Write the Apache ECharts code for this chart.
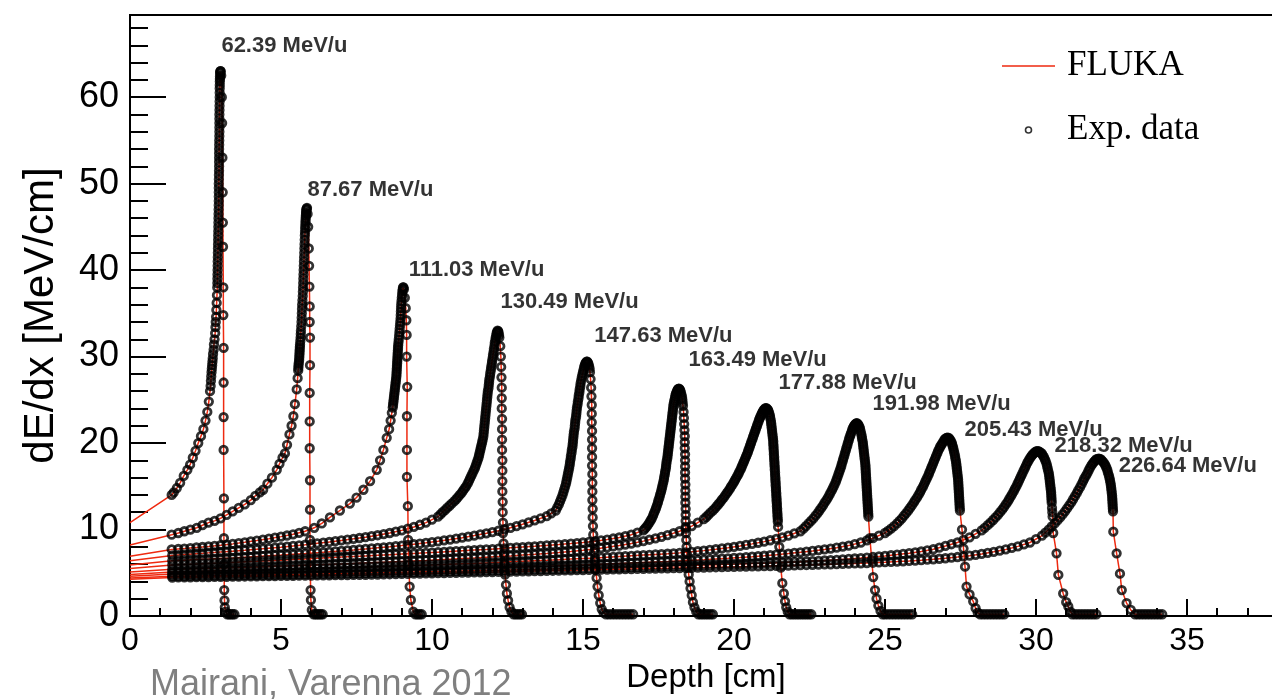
<!DOCTYPE html>
<html><head><meta charset="utf-8">
<script src="https://cdn.jsdelivr.net/npm/echarts@6/dist/echarts.min.js"></script>
<style>html,body{margin:0;padding:0;background:#fff}#c{width:1272px;height:699px}</style>
</head><body><div id="c"></div>
<script>
// ---------- data ----------
const energyLabels = ['62.39 MeV/u','87.67 MeV/u','111.03 MeV/u','130.49 MeV/u','147.63 MeV/u','163.49 MeV/u','177.88 MeV/u','191.98 MeV/u','205.43 MeV/u','218.32 MeV/u','226.64 MeV/u'];
// label anchor (depth, dE/dx) — left edge of each label
const labelAnchors = [[3.01,65.9],[5.86,49.3],[9.21,40.0],[12.25,36.3],[15.36,32.4],[18.48,29.6],[21.46,26.9],[24.57,24.5],[27.62,21.5],[30.6,19.7],[32.72,17.4]];
// FLUKA value at depth 0 for each energy
const flukaEntry = [10.8, 8.2, 6.9, 6.4, 5.9, 5.5, 5.1, 4.8, 4.6, 4.4, 4.25];
const xTicks = [0,5,10,15,20,25,30,35];
const yTicks = [0,10,20,30,40,50,60];

// measured curves (FLUKA line follows these, and they are also experimental points)
const c062 = [[1.38,14.0],[1.45,14.3],[1.55,14.8],[1.66,15.4],[1.78,16.2],[1.9,16.9],[1.99,17.5],[2.08,18.3],[2.17,19.1],[2.26,20.0],[2.35,20.8],[2.43,21.6],[2.5,22.6],[2.56,23.6],[2.61,24.8],[2.65,26.0],[2.67,26.6],[2.68,27.2],[2.69,27.7],[2.7,28.2],[2.71,28.6],[2.72,29.0],[2.73,29.4],[2.74,29.8],[2.75,30.3],[2.77,30.8],[2.78,31.4],[2.8,32.0],[2.82,32.7],[2.83,33.4],[2.84,34.0],[2.85,34.6],[2.86,35.4],[2.87,36.2],[2.88,37.1],[2.89,38.0],[2.895,39.0],[2.9,40.0],[2.905,41.0],[2.91,42.0],[2.915,43.0],[2.92,44.0],[2.925,45.0],[2.93,46.0],[2.935,47.0],[2.94,48.0],[2.94,49.0],[2.94,50.0],[2.945,51.0],[2.95,52.0],[2.95,53.0],[2.95,54.0],[2.955,55.0],[2.96,56.0],[2.96,57.0],[2.96,58.0],[2.965,59.0],[2.97,60.0],[2.97,61.0],[2.975,61.8],[2.98,62.4],[2.99,62.9],[3.0,63.0],[3.02,62.5],[3.04,60.0],[3.05,57.0],[3.06,53.0],[3.07,49.0],[3.075,45.5],[3.08,42.7],[3.09,38.0],[3.09,34.8],[3.1,31.0],[3.1,27.0],[3.1,23.0],[3.1,19.2],[3.11,13.6],[3.11,9.0],[3.12,6.0],[3.12,3.0],[3.13,1.8],[3.14,1.0],[3.17,0.5],[3.22,0.2],[3.28,0.2],[3.34,0.2],[3.4,0.2],[3.46,0.2]];
const c088 = [[1.38,9.4],[1.6,9.6],[1.8,9.8],[2.0,10.0],[2.21,10.2],[2.4,10.5],[2.6,10.8],[2.8,11.0],[3.0,11.3],[3.2,11.7],[3.4,12.1],[3.6,12.5],[3.8,12.9],[4.0,13.4],[4.15,13.9],[4.3,14.3],[4.41,14.6],[4.55,15.3],[4.7,16.0],[4.86,16.9],[4.95,17.6],[5.05,18.3],[5.13,18.8],[5.2,19.8],[5.28,21.0],[5.35,22.0],[5.41,23.1],[5.46,24.5],[5.52,26.2],[5.55,27.5],[5.57,28.4],[5.58,29.0],[5.6,29.6],[5.61,30.2],[5.62,30.8],[5.63,31.4],[5.65,32.2],[5.66,33.0],[5.68,34.0],[5.69,35.0],[5.7,36.0],[5.72,37.0],[5.73,38.0],[5.74,39.0],[5.75,40.0],[5.76,41.0],[5.77,42.0],[5.78,43.0],[5.79,44.0],[5.8,44.8],[5.81,45.5],[5.82,46.1],[5.83,46.6],[5.84,47.0],[5.86,47.2],[5.88,46.5],[5.9,45.0],[5.92,42.5],[5.93,40.5],[5.94,38.1],[5.95,35.8],[5.95,34.0],[5.96,32.2],[5.96,29.0],[5.95,25.8],[5.95,22.5],[5.95,19.4],[5.96,15.7],[5.96,12.3],[5.96,8.8],[5.97,5.8],[5.98,3.0],[5.99,1.85],[6.02,0.7],[6.08,0.2],[6.14,0.2],[6.2,0.2],[6.26,0.2],[6.32,0.2],[6.38,0.2]];
const c111 = [[1.38,7.7],[1.8,7.8],[2.2,7.92],[2.6,8.04],[3.0,8.18],[3.4,8.34],[3.8,8.52],[4.2,8.72],[4.6,8.94],[5.0,9.18],[5.4,9.45],[5.8,9.8],[6.1,10.2],[6.35,10.7],[6.62,11.4],[6.95,12.2],[7.28,13.0],[7.5,13.7],[7.73,14.6],[7.95,15.6],[8.17,16.9],[8.28,18.0],[8.39,19.2],[8.5,20.6],[8.58,21.6],[8.63,22.6],[8.67,23.5],[8.7,24.1],[8.72,24.7],[8.74,25.3],[8.76,25.9],[8.78,26.5],[8.8,27.1],[8.82,27.7],[8.83,28.3],[8.84,28.9],[8.85,29.5],[8.86,30.1],[8.87,30.7],[8.88,31.3],[8.9,32.0],[8.92,32.8],[8.94,33.6],[8.96,34.4],[8.97,35.2],[8.98,36.0],[9.0,36.8],[9.02,37.5],[9.04,38.0],[9.07,37.8],[9.1,36.8],[9.13,35.6],[9.15,34.2],[9.16,32.5],[9.16,30.0],[9.18,26.5],[9.17,23.1],[9.17,19.2],[9.17,16.1],[9.2,12.7],[9.21,8.8],[9.23,6.0],[9.26,3.4],[9.3,1.85],[9.38,0.5],[9.45,0.2],[9.52,0.2],[9.59,0.2],[9.66,0.2]];
const c130 = [[1.4,7.0],[1.8,7.1],[2.2,7.2],[2.6,7.3],[3.0,7.4],[3.4,7.5],[3.8,7.6],[4.2,7.72],[4.6,7.84],[5.0,7.96],[5.4,8.1],[5.8,8.24],[6.2,8.4],[6.6,8.56],[7.0,8.74],[7.4,8.92],[7.8,9.12],[8.2,9.34],[8.6,9.6],[9.0,9.9],[9.4,10.3],[9.8,10.8],[10.2,11.5],[10.35,12.0],[10.5,12.5],[10.65,13.0],[10.8,13.5],[10.92,14.0],[11.03,14.5],[11.13,15.0],[11.22,15.6],[11.3,16.2],[11.38,16.8],[11.45,17.4],[11.51,18.0],[11.56,18.6],[11.6,19.2],[11.64,19.8],[11.68,20.4],[11.71,21.1],[11.73,21.8],[11.75,22.5],[11.77,23.2],[11.79,23.9],[11.81,24.6],[11.83,25.3],[11.85,26.0],[11.88,26.7],[11.9,27.4],[11.93,28.1],[11.96,28.8],[11.99,29.5],[12.02,30.2],[12.05,30.9],[12.08,31.6],[12.11,32.2],[12.14,32.7],[12.17,33.0],[12.2,32.8],[12.23,32.2],[12.26,31.2],[12.28,30.0],[12.29,28.8],[12.3,27.6],[12.31,26.4],[12.31,25.2],[12.31,24.0],[12.32,22.8],[12.32,21.6],[12.32,20.4],[12.32,19.2],[12.33,18.0],[12.33,16.8],[12.33,15.6],[12.33,14.4],[12.34,13.2],[12.34,12.0],[12.35,10.8],[12.35,9.6],[12.37,8.4],[12.38,7.2],[12.4,6.0],[12.42,4.8],[12.45,3.6],[12.48,2.6],[12.52,1.8],[12.57,1.0],[12.63,0.5],[12.7,0.2],[12.77,0.2],[12.84,0.2],[12.91,0.2],[12.98,0.2]];
const c148 = [[1.4,6.4],[1.8,6.46],[2.2,6.52],[2.6,6.58],[3.0,6.65],[3.4,6.72],[3.8,6.8],[4.2,6.88],[4.6,6.96],[5.0,7.04],[5.4,7.13],[5.8,7.22],[6.2,7.32],[6.6,7.42],[7.0,7.53],[7.4,7.64],[7.8,7.76],[8.2,7.88],[8.6,8.0],[9.0,8.14],[9.4,8.3],[9.8,8.46],[10.2,8.64],[10.6,8.84],[11.0,9.06],[11.4,9.3],[11.8,9.56],[12.2,9.86],[12.6,10.2],[13.0,10.6],[13.4,11.05],[13.8,11.55],[14.1,12.2],[14.2,12.9],[14.28,13.6],[14.35,14.3],[14.41,15.0],[14.46,15.7],[14.5,16.4],[14.54,17.1],[14.57,17.8],[14.6,18.5],[14.63,19.2],[14.66,19.9],[14.68,20.6],[14.7,21.3],[14.73,22.0],[14.75,22.7],[14.78,23.4],[14.8,24.1],[14.83,24.8],[14.86,25.5],[14.89,26.2],[14.92,26.9],[14.96,27.6],[15.0,28.2],[15.04,28.8],[15.08,29.2],[15.12,29.4],[15.16,29.3],[15.2,28.9],[15.23,28.2],[15.25,27.4],[15.27,26.4],[15.28,25.4],[15.29,24.4],[15.29,23.4],[15.29,22.4],[15.3,21.4],[15.3,20.4],[15.3,19.4],[15.3,18.4],[15.3,17.4],[15.31,16.4],[15.31,15.4],[15.31,14.4],[15.31,13.4],[15.32,12.4],[15.32,11.4],[15.33,10.4],[15.34,9.4],[15.35,8.4],[15.37,7.4],[15.39,6.4],[15.42,5.4],[15.45,4.4],[15.48,3.4],[15.52,2.4],[15.57,1.5],[15.62,0.8],[15.68,0.4],[15.76,0.2],[15.86,0.2],[15.96,0.2],[16.06,0.2],[16.16,0.2],[16.26,0.2],[16.36,0.2],[16.46,0.2],[16.56,0.2],[16.66,0.2]];
const c163 = [[1.4,5.9],[1.8,5.96],[2.2,6.02],[2.6,6.08],[3.0,6.14],[3.4,6.2],[3.8,6.26],[4.2,6.32],[4.6,6.39],[5.0,6.46],[5.4,6.53],[5.8,6.6],[6.2,6.67],[6.6,6.74],[7.0,6.81],[7.4,6.88],[7.8,6.95],[8.2,7.02],[8.6,7.09],[9.0,7.16],[9.4,7.23],[9.8,7.3],[10.2,7.38],[10.6,7.46],[11.0,7.54],[11.4,7.62],[11.8,7.7],[12.2,7.79],[12.6,7.88],[13.0,7.97],[13.4,8.06],[13.8,8.16],[14.2,8.26],[14.6,8.37],[15.0,8.5],[15.4,8.65],[15.8,8.84],[16.2,9.08],[16.6,9.4],[17.0,9.9],[17.1,10.3],[17.2,10.8],[17.28,11.3],[17.35,11.9],[17.42,12.5],[17.48,13.1],[17.53,13.7],[17.58,14.3],[17.62,14.9],[17.66,15.5],[17.69,16.1],[17.72,16.7],[17.75,17.3],[17.77,17.9],[17.8,18.5],[17.82,19.1],[17.84,19.7],[17.86,20.3],[17.88,20.9],[17.9,21.5],[17.92,22.1],[17.94,22.7],[17.96,23.3],[17.98,23.9],[18.0,24.5],[18.03,25.0],[18.06,25.5],[18.1,25.9],[18.14,26.2],[18.18,26.3],[18.22,26.1],[18.26,25.6],[18.29,25.0],[18.31,24.3],[18.33,23.6],[18.34,22.9],[18.35,22.2],[18.36,21.5],[18.37,20.8],[18.37,20.1],[18.37,19.4],[18.38,18.7],[18.38,18.0],[18.38,17.3],[18.38,16.6],[18.38,15.9],[18.39,15.2],[18.39,14.5],[18.39,13.8],[18.39,13.1],[18.4,12.4],[18.4,11.7],[18.4,11.0],[18.4,10.3],[18.41,9.6],[18.42,8.8],[18.43,8.0],[18.44,7.2],[18.46,6.4],[18.48,5.6],[18.5,4.8],[18.53,4.0],[18.56,3.2],[18.6,2.4],[18.64,1.6],[18.69,1.0],[18.75,0.5],[18.82,0.2],[18.9,0.2],[18.98,0.2],[19.06,0.2],[19.14,0.2],[19.22,0.2],[19.3,0.2]];
const c178 = [[1.4,5.4],[1.8,5.44],[2.2,5.48],[2.6,5.52],[3.0,5.56],[3.4,5.6],[3.8,5.64],[4.2,5.68],[4.6,5.72],[5.0,5.77],[5.4,5.82],[5.8,5.87],[6.2,5.92],[6.6,5.97],[7.0,6.02],[7.4,6.07],[7.8,6.13],[8.2,6.19],[8.6,6.25],[9.0,6.31],[9.4,6.37],[9.8,6.43],[10.2,6.5],[10.6,6.57],[11.0,6.64],[11.4,6.71],[11.8,6.79],[12.2,6.87],[12.6,6.95],[13.0,7.04],[13.4,7.13],[13.8,7.23],[14.2,7.34],[14.6,7.46],[15.0,7.6],[15.4,7.76],[15.8,7.94],[16.2,8.14],[16.6,8.38],[17.0,8.66],[17.4,8.98],[17.8,9.35],[18.2,9.8],[18.6,10.4],[19.0,11.2],[19.15,11.7],[19.3,12.2],[19.43,12.7],[19.55,13.2],[19.66,13.7],[19.76,14.2],[19.86,14.7],[19.95,15.2],[20.03,15.7],[20.11,16.2],[20.18,16.7],[20.25,17.2],[20.31,17.7],[20.37,18.2],[20.43,18.7],[20.48,19.2],[20.53,19.7],[20.58,20.2],[20.63,20.7],[20.68,21.2],[20.73,21.7],[20.78,22.2],[20.83,22.7],[20.88,23.1],[20.93,23.5],[20.98,23.8],[21.03,24.0],[21.08,24.0],[21.13,23.8],[21.17,23.4],[21.2,22.9],[21.23,22.3],[21.25,21.7],[21.27,21.1],[21.29,20.5],[21.3,19.9],[21.31,19.3],[21.32,18.7],[21.33,18.1],[21.34,17.5],[21.35,16.9],[21.36,16.3],[21.37,15.7],[21.38,15.1],[21.39,14.5],[21.4,13.9],[21.41,13.3],[21.42,12.7],[21.43,12.1],[21.44,11.5],[21.45,10.9],[21.46,10.3],[21.5,8.0],[21.55,5.6],[21.6,3.8],[21.65,2.6],[21.69,1.7],[21.73,1.0],[21.78,0.5],[21.84,0.2],[21.92,0.2],[22.0,0.2],[22.08,0.2],[22.16,0.2],[22.24,0.2],[22.32,0.2],[22.4,0.2],[22.48,0.2],[22.56,0.2]];
const c192 = [[1.4,5.1],[1.8,5.13],[2.2,5.16],[2.6,5.19],[3.0,5.22],[3.4,5.25],[3.8,5.28],[4.2,5.31],[4.6,5.34],[5.0,5.38],[5.4,5.42],[5.8,5.46],[6.2,5.5],[6.6,5.54],[7.0,5.58],[7.4,5.62],[7.8,5.66],[8.2,5.7],[8.6,5.74],[9.0,5.78],[9.4,5.83],[9.8,5.88],[10.2,5.93],[10.6,5.98],[11.0,6.03],[11.4,6.08],[11.8,6.14],[12.2,6.2],[12.6,6.26],[13.0,6.32],[13.4,6.38],[13.8,6.44],[14.2,6.51],[14.6,6.58],[15.0,6.65],[15.4,6.72],[15.8,6.8],[16.2,6.88],[16.6,6.96],[17.0,7.04],[17.4,7.12],[17.8,7.2],[18.2,7.3],[18.6,7.42],[19.0,7.56],[19.4,7.72],[19.8,7.9],[20.2,8.1],[20.6,8.34],[21.0,8.6],[21.4,8.92],[21.8,9.3],[22.2,9.8],[22.38,10.4],[22.55,11.0],[22.7,11.6],[22.83,12.2],[22.95,12.8],[23.06,13.4],[23.16,14.0],[23.25,14.6],[23.33,15.2],[23.4,15.8],[23.46,16.4],[23.52,17.0],[23.57,17.6],[23.62,18.2],[23.67,18.8],[23.72,19.4],[23.77,20.0],[23.82,20.6],[23.87,21.1],[23.92,21.6],[23.97,21.95],[24.02,22.2],[24.07,22.3],[24.12,22.1],[24.17,21.7],[24.21,21.1],[24.24,20.5],[24.27,19.9],[24.29,19.3],[24.31,18.7],[24.33,18.1],[24.35,17.5],[24.36,16.9],[24.37,16.3],[24.38,15.7],[24.39,15.1],[24.4,14.5],[24.41,13.9],[24.42,13.3],[24.43,12.7],[24.44,12.1],[24.45,11.5],[24.5,9.0],[24.56,6.5],[24.61,4.5],[24.67,3.0],[24.72,2.0],[24.78,1.2],[24.85,0.6],[24.92,0.2],[25.0,0.2],[25.1,0.2],[25.2,0.2],[25.3,0.2],[25.4,0.2],[25.5,0.2],[25.6,0.2],[25.7,0.2],[25.8,0.2],[25.9,0.2]];
const c205 = [[1.4,4.85],[1.8,4.87],[2.2,4.89],[2.6,4.91],[3.0,4.93],[3.4,4.95],[3.8,4.97],[4.2,4.99],[4.6,5.01],[5.0,5.03],[5.4,5.05],[5.8,5.08],[6.2,5.11],[6.6,5.14],[7.0,5.17],[7.4,5.2],[7.8,5.23],[8.2,5.26],[8.6,5.29],[9.0,5.32],[9.4,5.35],[9.8,5.38],[10.2,5.41],[10.6,5.44],[11.0,5.48],[11.4,5.52],[11.8,5.56],[12.2,5.6],[12.6,5.64],[13.0,5.68],[13.4,5.72],[13.8,5.76],[14.2,5.81],[14.6,5.86],[15.0,5.91],[15.4,5.96],[15.8,6.01],[16.2,6.06],[16.6,6.12],[17.0,6.18],[17.4,6.24],[17.8,6.3],[18.2,6.37],[18.6,6.44],[19.0,6.51],[19.4,6.59],[19.8,6.67],[20.2,6.76],[20.6,6.86],[21.0,6.97],[21.4,7.09],[21.8,7.22],[22.2,7.36],[22.6,7.52],[23.0,7.7],[23.4,7.9],[23.8,8.14],[24.2,8.5],[24.6,9.0],[25.0,9.6],[25.2,10.1],[25.4,10.7],[25.56,11.3],[25.7,11.9],[25.83,12.5],[25.95,13.1],[26.06,13.7],[26.16,14.3],[26.25,14.9],[26.33,15.5],[26.41,16.1],[26.48,16.7],[26.55,17.3],[26.62,17.9],[26.69,18.5],[26.76,19.1],[26.83,19.6],[26.9,20.0],[26.97,20.4],[27.04,20.6],[27.11,20.6],[27.17,20.3],[27.22,19.9],[27.26,19.4],[27.3,18.8],[27.33,18.2],[27.36,17.6],[27.38,17.0],[27.4,16.4],[27.42,15.8],[27.43,15.2],[27.44,14.6],[27.45,14.0],[27.46,13.4],[27.47,12.8],[27.48,12.2],[27.55,10.0],[27.6,7.8],[27.65,5.7],[27.7,3.4],[27.8,2.5],[27.92,1.7],[28.0,0.9],[28.07,0.4],[28.15,0.2],[28.25,0.2],[28.35,0.2],[28.45,0.2],[28.55,0.2],[28.65,0.2],[28.75,0.2],[28.85,0.2],[28.95,0.2]];
const c218 = [[1.4,4.6],[1.8,4.62],[2.2,4.64],[2.6,4.66],[3.0,4.68],[3.4,4.7],[3.8,4.72],[4.2,4.74],[4.6,4.76],[5.0,4.78],[5.4,4.8],[5.8,4.82],[6.2,4.85],[6.6,4.88],[7.0,4.91],[7.4,4.94],[7.8,4.97],[8.2,5.0],[8.6,5.03],[9.0,5.06],[9.4,5.09],[9.8,5.12],[10.2,5.15],[10.6,5.18],[11.0,5.21],[11.4,5.24],[11.8,5.27],[12.2,5.3],[12.6,5.33],[13.0,5.36],[13.4,5.39],[13.8,5.42],[14.2,5.45],[14.6,5.48],[15.0,5.51],[15.4,5.54],[15.8,5.57],[16.2,5.61],[16.6,5.65],[17.0,5.69],[17.4,5.73],[17.8,5.77],[18.2,5.81],[18.6,5.85],[19.0,5.89],[19.4,5.93],[19.8,5.97],[20.2,6.01],[20.6,6.06],[21.0,6.11],[21.4,6.16],[21.8,6.22],[22.2,6.28],[22.6,6.35],[23.0,6.42],[23.4,6.5],[23.8,6.6],[24.2,6.7],[24.6,6.82],[25.0,6.95],[25.4,7.1],[25.8,7.27],[26.2,7.46],[26.6,7.72],[27.0,8.1],[27.4,8.5],[27.8,9.1],[28.2,9.9],[28.4,10.5],[28.58,11.1],[28.74,11.7],[28.88,12.3],[29.0,12.9],[29.11,13.5],[29.21,14.1],[29.3,14.7],[29.39,15.3],[29.47,15.9],[29.55,16.5],[29.63,17.1],[29.71,17.7],[29.79,18.2],[29.87,18.6],[29.95,18.9],[30.03,19.05],[30.11,19.0],[30.19,18.8],[30.26,18.4],[30.32,17.9],[30.37,17.3],[30.41,16.7],[30.44,16.1],[30.46,15.5],[30.48,14.9],[30.5,14.3],[30.51,13.7],[30.52,13.1],[30.55,11.5],[30.57,9.6],[30.68,7.25],[30.74,4.75],[30.9,2.6],[31.0,1.6],[31.07,1.1],[31.14,0.5],[31.2,0.2],[31.3,0.2],[31.4,0.2],[31.5,0.2],[31.6,0.2],[31.7,0.2],[31.8,0.2],[31.9,0.2],[32.0,0.2]];
const c227 = [[1.4,4.45],[1.8,4.47],[2.2,4.49],[2.6,4.51],[3.0,4.53],[3.4,4.55],[3.8,4.57],[4.2,4.59],[4.6,4.61],[5.0,4.63],[5.4,4.65],[5.8,4.67],[6.2,4.69],[6.6,4.71],[7.0,4.73],[7.4,4.75],[7.8,4.77],[8.2,4.8],[8.6,4.83],[9.0,4.86],[9.4,4.89],[9.8,4.92],[10.2,4.95],[10.6,4.98],[11.0,5.01],[11.4,5.04],[11.8,5.07],[12.2,5.1],[12.6,5.13],[13.0,5.16],[13.4,5.19],[13.8,5.22],[14.2,5.25],[14.6,5.28],[15.0,5.31],[15.4,5.34],[15.8,5.37],[16.2,5.4],[16.6,5.43],[17.0,5.46],[17.4,5.49],[17.8,5.52],[18.2,5.55],[18.6,5.58],[19.0,5.61],[19.4,5.64],[19.8,5.67],[20.2,5.7],[20.6,5.73],[21.0,5.76],[21.4,5.8],[21.8,5.84],[22.2,5.88],[22.6,5.92],[23.0,5.96],[23.4,6.0],[23.8,6.05],[24.2,6.1],[24.6,6.16],[25.0,6.22],[25.4,6.29],[25.8,6.37],[26.2,6.46],[26.6,6.56],[27.0,6.68],[27.4,6.82],[27.8,6.98],[28.2,7.18],[28.6,7.42],[29.0,7.7],[29.4,8.05],[29.8,8.5],[30.2,9.3],[30.42,10.0],[30.62,10.7],[30.8,11.4],[30.96,12.1],[31.1,12.8],[31.23,13.5],[31.35,14.2],[31.46,14.9],[31.56,15.6],[31.65,16.2],[31.74,16.8],[31.83,17.4],[31.91,17.8],[31.99,18.1],[32.07,18.2],[32.15,18.1],[32.23,17.8],[32.3,17.4],[32.36,16.9],[32.41,16.3],[32.45,15.7],[32.48,15.1],[32.5,14.5],[32.52,13.9],[32.53,13.3],[32.54,12.7],[32.55,12.1],[32.56,9.75],[32.67,7.25],[32.78,4.9],[32.84,3.0],[33.0,1.5],[33.14,0.7],[33.28,0.2],[33.38,0.2],[33.48,0.2],[33.58,0.2],[33.68,0.2],[33.78,0.2],[33.88,0.2],[33.98,0.2],[34.08,0.2],[34.18,0.2]];

// additional experimental points in densely sampled regions (exp. data only)
const x062 = [[2.893,38.5],[2.898,39.5],[2.903,40.5],[2.908,41.5],[2.913,42.5],[2.918,43.5],[2.923,44.5],[2.928,45.5],[2.933,46.5],[2.938,47.5],[2.94,48.5],[2.94,49.5],[2.943,50.5],[2.948,51.5],[2.95,52.5],[2.95,53.5],[2.953,54.5],[2.958,55.5],[2.96,56.5],[2.96,57.5],[2.963,58.5],[2.968,59.5],[2.97,60.5],[2.973,61.4],[2.978,62.1],[2.985,62.7],[2.995,63.0]];
const x088 = [[5.575,28.7],[5.59,29.3],[5.605,29.9],[5.615,30.5],[5.625,31.1],[5.64,31.8],[5.655,32.6],[5.67,33.5],[5.685,34.5],[5.695,35.5],[5.71,36.5],[5.725,37.5],[5.735,38.5],[5.745,39.5],[5.755,40.5],[5.765,41.5],[5.775,42.5],[5.785,43.5],[5.795,44.4],[5.805,45.15],[5.815,45.8],[5.825,46.35],[5.835,46.8],[5.85,47.1]];
const x111 = [[1.6,7.75],[2.0,7.86],[2.4,7.98],[2.8,8.11],[3.2,8.26],[3.6,8.43],[4.0,8.62],[4.4,8.83],[4.8,9.06],[5.2,9.31],[5.6,9.62],[8.71,24.4],[8.73,25.0],[8.75,25.6],[8.77,26.2],[8.79,26.8],[8.81,27.4],[8.825,28.0],[8.835,28.6],[8.845,29.2],[8.855,29.8],[8.865,30.4],[8.875,31.0],[8.89,31.65],[8.91,32.4],[8.93,33.2],[8.95,34.0],[8.965,34.8],[8.975,35.6],[8.99,36.4],[9.01,37.15],[9.03,37.75],[9.055,38.0]];
const x130 = [[1.6,7.05],[2.0,7.15],[2.4,7.25],[2.8,7.35],[3.2,7.45],[3.6,7.55],[4.0,7.66],[4.4,7.78],[4.8,7.9],[5.2,8.03],[5.6,8.17],[6.0,8.32],[6.4,8.48],[6.8,8.65],[7.2,8.83],[7.6,9.02],[8.0,9.23],[8.4,9.47],[8.8,9.75],[9.2,10.1],[9.6,10.55],[10.0,11.15],[10.28,11.75],[10.43,12.25],[10.58,12.75],[10.73,13.25],[10.86,13.75],[10.98,14.25],[11.08,14.75],[11.18,15.3],[11.26,15.9],[11.34,16.5],[11.42,17.1],[11.48,17.7],[11.54,18.3],[11.58,18.9],[11.62,19.5],[11.66,20.1],[11.7,20.75],[11.72,21.45],[11.74,22.15],[11.76,22.85],[11.78,23.55],[11.8,24.25],[11.82,24.95],[11.84,25.65],[11.87,26.35],[11.89,27.05],[11.92,27.75],[11.95,28.45],[11.98,29.15],[12.01,29.85],[12.04,30.55],[12.07,31.25],[12.1,31.9],[12.13,32.45],[12.16,32.85],[12.19,32.95],[12.22,32.5]];
const x148 = [[1.6,6.43],[2.0,6.49],[2.4,6.55],[2.8,6.61],[3.2,6.68],[3.6,6.76],[4.0,6.84],[4.4,6.92],[4.8,7.0],[5.2,7.08],[5.6,7.17],[6.0,7.27],[6.4,7.37],[6.8,7.47],[7.2,7.58],[7.6,7.7],[8.0,7.82],[8.4,7.94],[8.8,8.07],[9.2,8.22],[9.6,8.38],[10.0,8.55],[10.4,8.74],[10.8,8.95],[11.2,9.18],[11.6,9.43],[12.0,9.71],[12.4,10.03],[12.8,10.4],[13.2,10.83],[13.6,11.3],[13.95,11.87],[14.15,12.55],[14.24,13.25],[14.32,13.95],[14.38,14.65],[14.44,15.35],[14.48,16.05],[14.52,16.75],[14.56,17.45],[14.59,18.15],[14.62,18.85],[14.65,19.55],[14.67,20.25],[14.69,20.95],[14.72,21.65],[14.74,22.35],[14.77,23.05],[14.79,23.75],[14.82,24.45],[14.85,25.15],[14.88,25.85],[14.91,26.55],[14.94,27.25],[14.98,27.9],[15.02,28.5],[15.06,29.0],[15.1,29.3],[15.14,29.4],[15.18,29.15],[15.22,28.6]];
const x163 = [[1.6,5.93],[2.0,5.99],[2.4,6.05],[2.8,6.11],[3.2,6.17],[3.6,6.23],[4.0,6.29],[4.4,6.35],[4.8,6.42],[5.2,6.49],[5.6,6.56],[6.0,6.63],[6.4,6.7],[6.8,6.77],[7.2,6.84],[7.6,6.91],[8.0,6.98],[8.4,7.05],[8.8,7.12],[9.2,7.19],[9.6,7.26],[10.0,7.34],[10.4,7.42],[10.8,7.5],[11.2,7.58],[11.6,7.66],[12.0,7.74],[12.4,7.83],[12.8,7.92],[13.2,8.01],[13.6,8.11],[14.0,8.21],[14.4,8.31],[14.8,8.43],[15.2,8.57],[15.6,8.74],[16.0,8.96],[16.4,9.24],[16.8,9.65],[17.05,10.1],[17.15,10.55],[17.24,11.05],[17.32,11.6],[17.39,12.2],[17.45,12.8],[17.5,13.4],[17.55,14.0],[17.6,14.6],[17.64,15.2],[17.68,15.8],[17.71,16.4],[17.74,17.0],[17.76,17.6],[17.79,18.2],[17.81,18.8],[17.83,19.4],[17.85,20.0],[17.87,20.6],[17.89,21.2],[17.91,21.8],[17.93,22.4],[17.95,23.0],[17.97,23.6],[17.99,24.2],[18.02,24.75],[18.05,25.25],[18.08,25.7],[18.12,26.05],[18.16,26.25],[18.2,26.2],[18.24,25.85],[18.28,25.3],[18.3,24.65]];
const x178 = [[1.6,5.42],[2.0,5.46],[2.4,5.5],[2.8,5.54],[3.2,5.58],[3.6,5.62],[4.0,5.66],[4.4,5.7],[4.8,5.74],[5.2,5.79],[5.6,5.84],[6.0,5.89],[6.4,5.94],[6.8,5.99],[7.2,6.04],[7.6,6.1],[8.0,6.16],[8.4,6.22],[8.8,6.28],[9.2,6.34],[9.6,6.4],[10.0,6.46],[10.4,6.53],[10.8,6.6],[11.2,6.67],[11.6,6.75],[12.0,6.83],[12.4,6.91],[12.8,6.99],[13.2,7.08],[13.6,7.18],[14.0,7.28],[14.4,7.4],[14.8,7.53],[15.2,7.68],[15.6,7.85],[16.0,8.04],[16.4,8.26],[16.8,8.52],[17.2,8.82],[17.6,9.16],[18.0,9.57],[18.4,10.1],[18.8,10.8],[19.08,11.45],[19.22,11.95],[19.37,12.45],[19.49,12.95],[19.6,13.45],[19.71,13.95],[19.81,14.45],[19.9,14.95],[19.99,15.45],[20.07,15.95],[20.15,16.45],[20.22,16.95],[20.28,17.45],[20.34,17.95],[20.4,18.45],[20.46,18.95],[20.51,19.45],[20.56,19.95],[20.61,20.45],[20.66,20.95],[20.71,21.45],[20.76,21.95],[20.81,22.45],[20.86,22.9],[20.91,23.3],[20.96,23.65],[21.01,23.9],[21.06,24.05],[21.11,23.9],[21.15,23.6],[21.19,23.15],[21.22,22.6],[21.24,22.0],[21.26,21.4],[21.28,20.8],[21.3,20.2],[21.31,19.6],[21.32,19.0],[21.33,18.4],[21.34,17.8],[21.35,17.2],[21.36,16.6],[21.37,16.0],[21.38,15.4],[21.39,14.8],[21.4,14.2],[21.41,13.6],[21.42,13.0],[21.43,12.4],[21.44,11.8],[21.45,11.2]];
const x192 = [[1.6,5.11],[2.0,5.14],[2.4,5.17],[2.8,5.2],[3.2,5.23],[3.6,5.26],[4.0,5.29],[4.4,5.32],[4.8,5.36],[5.2,5.4],[5.6,5.44],[6.0,5.48],[6.4,5.52],[6.8,5.56],[7.2,5.6],[7.6,5.64],[8.0,5.68],[8.4,5.72],[8.8,5.76],[9.2,5.8],[9.6,5.85],[10.0,5.9],[10.4,5.95],[10.8,6.0],[11.2,6.05],[11.6,6.11],[12.0,6.17],[12.4,6.23],[12.8,6.29],[13.2,6.35],[13.6,6.41],[14.0,6.47],[14.4,6.54],[14.8,6.61],[15.2,6.68],[15.6,6.76],[16.0,6.84],[16.4,6.92],[16.8,7.0],[17.2,7.08],[17.6,7.16],[18.0,7.25],[18.4,7.36],[18.8,7.49],[19.2,7.64],[19.6,7.81],[20.0,8.0],[20.4,8.22],[20.8,8.47],[21.2,8.76],[21.6,9.1],[22.0,9.55],[22.3,10.1],[22.47,10.7],[22.63,11.3],[22.77,11.9],[22.89,12.5],[23.0,13.1],[23.11,13.7],[23.2,14.3],[23.29,14.9],[23.37,15.5],[23.43,16.1],[23.49,16.7],[23.55,17.3],[23.6,17.9],[23.65,18.5],[23.7,19.1],[23.75,19.7],[23.8,20.3],[23.85,20.85],[23.9,21.35],[23.95,21.8],[24.0,22.1],[24.05,22.27],[24.1,22.2],[24.15,21.9],[24.19,21.4],[24.23,20.8],[24.26,20.2],[24.28,19.6],[24.3,19.0],[24.32,18.4],[24.34,17.8],[24.355,17.2],[24.365,16.6],[24.375,16.0],[24.385,15.4],[24.395,14.8],[24.405,14.2],[24.415,13.6],[24.425,13.0],[24.435,12.4],[24.445,11.8]];
const x205 = [[1.6,4.86],[2.0,4.88],[2.4,4.9],[2.8,4.92],[3.2,4.94],[3.6,4.96],[4.0,4.98],[4.4,5.0],[4.8,5.02],[5.2,5.04],[5.6,5.065],[6.0,5.095],[6.4,5.125],[6.8,5.155],[7.2,5.185],[7.6,5.215],[8.0,5.245],[8.4,5.275],[8.8,5.305],[9.2,5.335],[9.6,5.365],[10.0,5.395],[10.4,5.425],[10.8,5.46],[11.2,5.5],[11.6,5.54],[12.0,5.58],[12.4,5.62],[12.8,5.66],[13.2,5.7],[13.6,5.74],[14.0,5.785],[14.4,5.835],[14.8,5.885],[15.2,5.935],[15.6,5.985],[16.0,6.035],[16.4,6.09],[16.8,6.15],[17.2,6.21],[17.6,6.27],[18.0,6.335],[18.4,6.405],[18.8,6.475],[19.2,6.55],[19.6,6.63],[20.0,6.715],[20.4,6.81],[20.8,6.915],[21.2,7.03],[21.6,7.155],[22.0,7.29],[22.4,7.44],[22.8,7.61],[23.2,7.8],[23.6,8.02],[24.0,8.32],[24.4,8.75],[24.8,9.3],[25.1,9.85],[25.3,10.4],[25.48,11.0],[25.63,11.6],[25.77,12.2],[25.89,12.8],[26.0,13.4],[26.11,14.0],[26.2,14.6],[26.29,15.2],[26.37,15.8],[26.45,16.4],[26.52,17.0],[26.59,17.6],[26.66,18.2],[26.73,18.8],[26.8,19.35],[26.87,19.8],[26.94,20.2],[27.0,20.5],[27.07,20.62],[27.14,20.45],[27.2,20.1],[27.24,19.65],[27.28,19.1],[27.32,18.5],[27.35,17.9],[27.37,17.3],[27.39,16.7],[27.41,16.1],[27.425,15.5],[27.435,14.9],[27.445,14.3],[27.455,13.7],[27.465,13.1],[27.475,12.5]];
const x218 = [[1.6,4.61],[2.0,4.63],[2.4,4.65],[2.8,4.67],[3.2,4.69],[3.6,4.71],[4.0,4.73],[4.4,4.75],[4.8,4.77],[5.2,4.79],[5.6,4.81],[6.0,4.835],[6.4,4.865],[6.8,4.895],[7.2,4.925],[7.6,4.955],[8.0,4.985],[8.4,5.015],[8.8,5.045],[9.2,5.075],[9.6,5.105],[10.0,5.135],[10.4,5.165],[10.8,5.195],[11.2,5.225],[11.6,5.255],[12.0,5.285],[12.4,5.315],[12.8,5.345],[13.2,5.375],[13.6,5.405],[14.0,5.435],[14.4,5.465],[14.8,5.495],[15.2,5.525],[15.6,5.555],[16.0,5.59],[16.4,5.63],[16.8,5.67],[17.2,5.71],[17.6,5.75],[18.0,5.79],[18.4,5.83],[18.8,5.87],[19.2,5.91],[19.6,5.95],[20.0,5.99],[20.4,6.035],[20.8,6.085],[21.2,6.135],[21.6,6.19],[22.0,6.25],[22.4,6.315],[22.8,6.385],[23.2,6.46],[23.6,6.55],[24.0,6.65],[24.4,6.76],[24.8,6.885],[25.2,7.025],[25.6,7.185],[26.0,7.365],[26.4,7.59],[26.8,7.91],[27.2,8.3],[27.6,8.8],[28.0,9.5],[28.3,10.2],[28.49,10.8],[28.66,11.4],[28.81,12.0],[28.94,12.6],[29.06,13.2],[29.16,13.8],[29.26,14.4],[29.35,15.0],[29.43,15.6],[29.51,16.2],[29.59,16.8],[29.67,17.4],[29.75,17.95],[29.83,18.4],[29.91,18.75],[29.99,19.0],[30.07,19.05],[30.15,18.9],[30.22,18.6],[30.29,18.15],[30.35,17.6],[30.39,17.0],[30.43,16.4],[30.45,15.8],[30.47,15.2],[30.49,14.6],[30.505,14.0],[30.515,13.4],[30.53,12.5],[30.54,12.0]];
const x227 = [[1.6,4.46],[2.0,4.48],[2.4,4.5],[2.8,4.52],[3.2,4.54],[3.6,4.56],[4.0,4.58],[4.4,4.6],[4.8,4.62],[5.2,4.64],[5.6,4.66],[6.0,4.68],[6.4,4.7],[6.8,4.72],[7.2,4.74],[7.6,4.76],[8.0,4.785],[8.4,4.815],[8.8,4.845],[9.2,4.875],[9.6,4.905],[10.0,4.935],[10.4,4.965],[10.8,4.995],[11.2,5.025],[11.6,5.055],[12.0,5.085],[12.4,5.115],[12.8,5.145],[13.2,5.175],[13.6,5.205],[14.0,5.235],[14.4,5.265],[14.8,5.295],[15.2,5.325],[15.6,5.355],[16.0,5.385],[16.4,5.415],[16.8,5.445],[17.2,5.475],[17.6,5.505],[18.0,5.535],[18.4,5.565],[18.8,5.595],[19.2,5.625],[19.6,5.655],[20.0,5.685],[20.4,5.715],[20.8,5.745],[21.2,5.78],[21.6,5.82],[22.0,5.86],[22.4,5.9],[22.8,5.94],[23.2,5.98],[23.6,6.025],[24.0,6.075],[24.4,6.13],[24.8,6.19],[25.2,6.255],[25.6,6.33],[26.0,6.415],[26.4,6.51],[26.8,6.62],[27.2,6.75],[27.6,6.9],[28.0,7.08],[28.4,7.3],[28.8,7.56],[29.2,7.875],[29.6,8.275],[30.0,8.9],[30.31,9.65],[30.52,10.35],[30.71,11.05],[30.88,11.75],[31.03,12.45],[31.17,13.15],[31.29,13.85],[31.4,14.55],[31.51,15.25],[31.6,15.9],[31.7,16.5],[31.78,17.1],[31.87,17.6],[31.95,17.95],[32.03,18.15],[32.11,18.18],[32.19,17.95],[32.27,17.6],[32.33,17.15],[32.38,16.6],[32.43,16.0],[32.465,15.4],[32.49,14.8],[32.51,14.2],[32.525,13.6],[32.535,13.0],[32.545,12.4]];

// ---------- chart ----------
const curves = [c062,c088,c111,c130,c148,c163,c178,c192,c205,c218,c227];
const extras = [x062,x088,x111,x130,x148,x163,x178,x192,x205,x218,x227];
const RED = '#ee2a10';
const FONT = '"Liberation Sans", Arial, Helvetica, sans-serif';
const series = [];
curves.forEach((pts, i) => {
  series.push({
    type: 'line', name: 'FLUKA', data: [[0, flukaEntry[i]]].concat(pts),
    symbol: 'none', showSymbol: false, lineStyle: {color: RED, width: 1.5},
    itemStyle: {color: RED}, z: 2, silent: true
  });
  series.push({
    type: 'scatter', name: 'Exp. data', data: pts.concat(extras[i]), symbol: 'circle', symbolSize: 7.5,
    itemStyle: {color: 'rgba(0,0,0,0)', borderColor: '#000', borderWidth: 2.8}, z: 3, silent: true
  });
});
series.push({
  type: 'scatter', name: 'energyLabels', symbolSize: 1, itemStyle: {color: 'rgba(0,0,0,0)'}, z: 5, silent: true,
  data: labelAnchors.map((p, i) => [p[0], p[1], energyLabels[i]]),
  label: {show: true, position: 'right', distance: 0, formatter: p => p.value[2],
    fontFamily: FONT, fontWeight: 'bold', fontSize: 22, color: '#000'}
});

const chart = echarts.init(document.getElementById('c'), null, {renderer: 'canvas'});
chart.setOption({
  animation: false,
  backgroundColor: '#fff',
  title: {text: 'Mairani, Varenna 2012', left: 145, top: 662,
    textStyle: {color: '#808080', fontSize: 36, fontWeight: 'normal', fontFamily: FONT}},
  legend: {
    data: [
      {name: 'FLUKA', icon: 'path://M0,0L53,0L53,0.01L0,0.01Z M0,2.2L53,2.2L53,3.8L0,3.8Z M0,5.99L53,5.99L53,6L0,6Z',
        itemStyle: {color: RED, borderWidth: 0}},
      {name: 'Exp. data', icon: 'circle',
        itemStyle: {color: 'rgba(0,0,0,0)', borderColor: '#000', borderWidth: 1.6}}],
    orient: 'vertical', left: 1002, top: 46, padding: 0, itemWidth: 53, itemHeight: 6, itemGap: 24,
    selectedMode: false,
    textStyle: {fontFamily: '"Liberation Serif", "Times New Roman", serif', fontSize: 35, color: '#000', lineHeight: 40, padding: [0,0,0,7]}
  },
  grid: {left: 130, top: 15, right: 1272 - (130 + 40 * 30.2), bottom: 83, outerBoundsMode: 'none', containLabel: false,
    show: true, borderColor: '#000', borderWidth: 2, backgroundColor: 'transparent'},
  xAxis: [{
    type: 'value', min: 0, max: 40, interval: 5,
    name: 'Depth [cm]', nameLocation: 'middle', nameGap: 40,
    nameTextStyle: {fontFamily: FONT, fontSize: 33, color: '#000', padding: [0, 56, 0, 0]},
    axisLine: {lineStyle: {color: '#000', width: 2}},
    axisTick: {inside: true, length: 17, lineStyle: {color: '#000', width: 2}},
    minorTick: {show: true, splitNumber: 5, length: 8, lineStyle: {color: '#000', width: 2}},
    axisLabel: {fontFamily: FONT, fontSize: 32, color: '#000', margin: 9,
      formatter: v => xTicks.indexOf(v) >= 0 ? String(v) : ''},
    splitLine: {show: false}
  }],
  yAxis: [{
    type: 'value', min: 0, max: 69.5, interval: 10,
    name: 'dE/dx [MeV/cm]', nameLocation: 'middle', nameGap: 68,
    nameTextStyle: {fontFamily: FONT, fontSize: 42, color: '#000'},
    axisLine: {lineStyle: {color: '#000', width: 2}},
    axisTick: {inside: true, length: 36, lineStyle: {color: '#000', width: 2}},
    axisLabel: {fontFamily: FONT, fontSize: 36, color: '#000', margin: 11, showMaxLabel: false,
      formatter: v => yTicks.indexOf(v) >= 0 ? String(v) : ''},
    splitLine: {show: false}
  }, {
    type: 'value', min: 0, max: 69.5, interval: 2, position: 'left',
    axisLine: {show: false},
    axisTick: {inside: true, length: 18, lineStyle: {color: '#000', width: 2}},
    axisLabel: {show: false}, splitLine: {show: false}
  }],
  series: series
});
</script></body></html>
